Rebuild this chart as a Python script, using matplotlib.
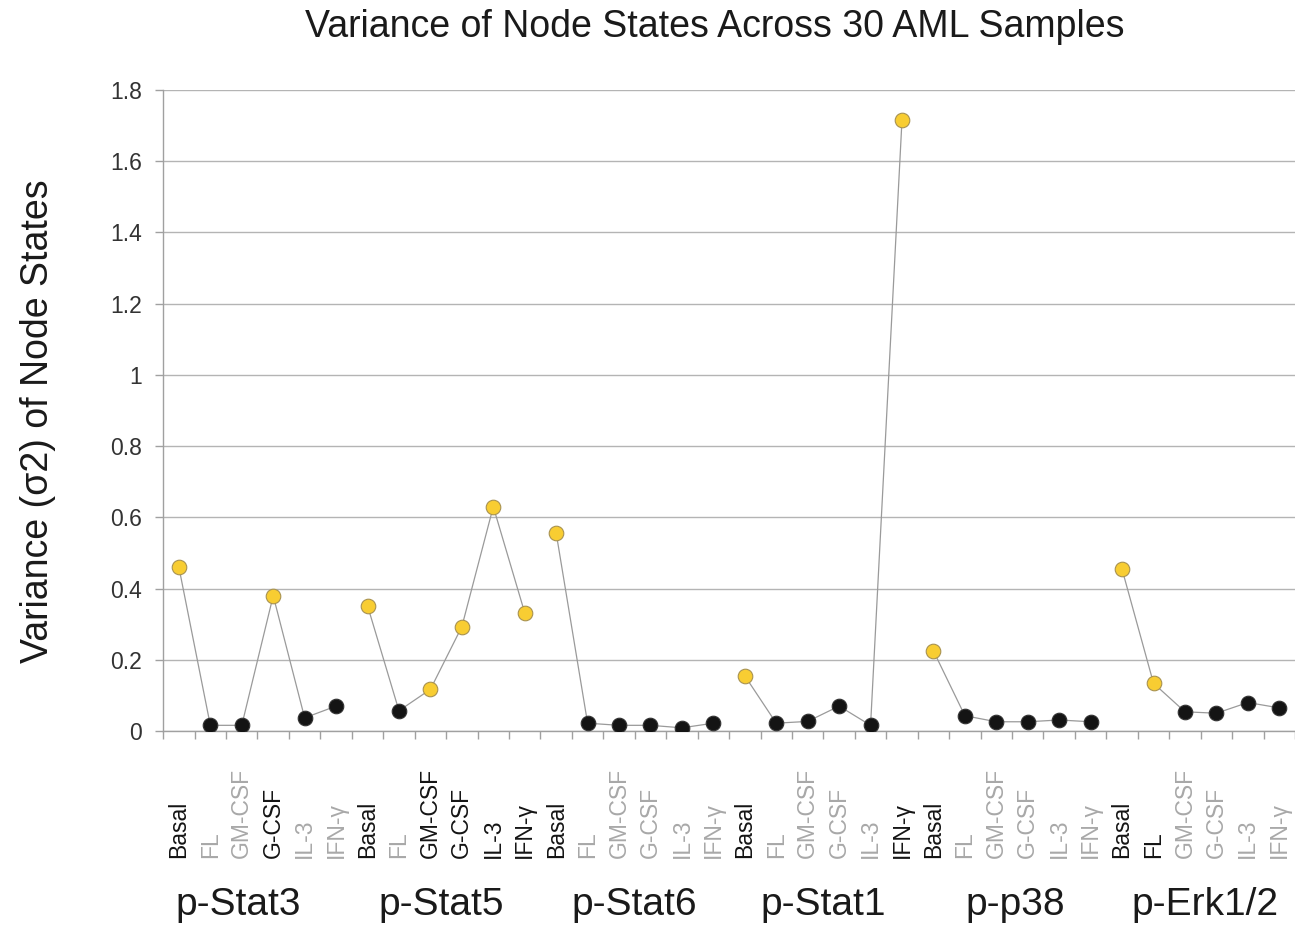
import matplotlib
matplotlib.use("Agg")
import matplotlib.pyplot as plt
import matplotlib.transforms as mtransforms
import numpy as np

plt.rcParams['font.family'] = ['Liberation Sans', 'DejaVu Sans']

# node groups and stimulation conditions
groups = ['p-Stat3', 'p-Stat5', 'p-Stat6', 'p-Stat1', 'p-p38', 'p-Erk1/2']
conditions = ['Basal', 'FL', 'GM-CSF', 'G-CSF', 'IL-3', 'IFN-γ']

# variance per node state, one list per group
var_stat3 = [0.46, 0.016, 0.016, 0.38, 0.037, 0.07]
var_stat5 = [0.352, 0.057, 0.117, 0.293, 0.63, 0.332]
var_stat6 = [0.556, 0.022, 0.016, 0.016, 0.009, 0.022]
var_stat1 = [0.155, 0.022, 0.027, 0.07, 0.016, 1.716]
var_p38 = [0.225, 0.043, 0.026, 0.026, 0.031, 0.026]
var_erk = [0.454, 0.134, 0.054, 0.05, 0.08, 0.065]

# 1 = highlighted (yellow marker / black label), 0 = not
hl_stat3 = [1, 0, 0, 1, 0, 0]
hl_stat5 = [1, 0, 1, 1, 1, 1]
hl_stat6 = [1, 0, 0, 0, 0, 0]
hl_stat1 = [1, 0, 0, 0, 0, 1]
hl_p38 = [1, 0, 0, 0, 0, 0]
hl_erk = [1, 1, 0, 0, 0, 0]

values = [var_stat3, var_stat5, var_stat6, var_stat1, var_p38, var_erk]
highlight = [hl_stat3, hl_stat5, hl_stat6, hl_stat1, hl_p38, hl_erk]

YELLOW = '#f8cd32'
YELLOW_EDGE = '#a89250'
BLACK = '#141414'
LABEL_GRAY = '#a8a8a8'
AXIS_GRAY = '#a0a0a0'

fig = plt.figure(figsize=(12.95, 9.25), dpi=100)
ax = fig.add_axes([0.126, 0.2097, 0.874, 0.693])

n = len(conditions)
for g, (vals, hl) in enumerate(zip(values, highlight)):
    xs = np.arange(n) + g * n
    ax.plot(xs, vals, '-', color='#9a9a9a', lw=0.9, zorder=2)
    for x, v, h in zip(xs, vals, hl):
        if h:
            ax.plot(x, v, 'o', ms=10.5, mfc=YELLOW, mec=YELLOW_EDGE, mew=0.8, zorder=3)
        else:
            ax.plot(x, v, 'o', ms=10.5, mfc=BLACK, mec='#333333', mew=0.8, zorder=3)

ax.set_xlim(-0.5, len(groups) * n - 0.5)
ax.set_ylim(0, 1.8)
ax.set_yticks(np.arange(0, 1.81, 0.2))
ax.set_yticklabels(['0', '0.2', '0.4', '0.6', '0.8', '1', '1.2', '1.4', '1.6', '1.8'],
                   fontsize=16.5, color='#333333')
ax.set_xticks(np.arange(-0.5, len(groups) * n, 1.0))
ax.set_xticklabels([])
ax.tick_params(axis='x', length=6, width=1, color=AXIS_GRAY, direction='out')
ax.tick_params(axis='y', length=6, width=1, color=AXIS_GRAY, direction='out', pad=9)
ax.grid(axis='y', color='#b4b4b4', lw=1.0)
ax.set_axisbelow(True)
for s in ['top', 'right']:
    ax.spines[s].set_visible(False)
for s in ['left', 'bottom']:
    ax.spines[s].set_color(AXIS_GRAY)
    ax.spines[s].set_linewidth(1.0)

# rotated condition labels, aligned at their start
trans = mtransforms.blended_transform_factory(ax.transData, fig.transFigure)
label_shift = [-0.6, -0.15, 0, 0, 0.1, 0.15]
for g, hl in enumerate(highlight):
    for i, (c, h) in enumerate(zip(conditions, hl)):
        ax.text(g * n + i, 0.072, c, rotation=90, ha='center', va='bottom',
                fontsize=16.5, color=BLACK if h else LABEL_GRAY, transform=trans)
    ax.text(g * n + (n - 1) / 2 + label_shift[g], 0.011, groups[g], ha='center',
            va='baseline', fontsize=28, color='#1a1a1a', transform=trans)

fig.text(0.552, 0.96, 'Variance of Node States Across 30 AML Samples',
         ha='center', va='baseline', fontsize=27, color='#1a1a1a')
fig.text(0.029, 0.545, 'Variance (σ2) of Node States', rotation=90,
         ha='center', va='center', fontsize=27, color='#1a1a1a')

fig.savefig('out.png', dpi=100)
